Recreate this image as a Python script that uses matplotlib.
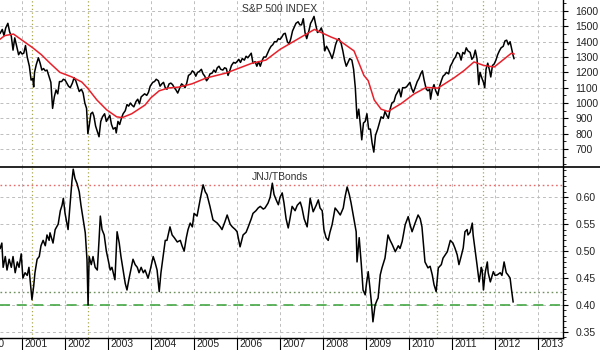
import matplotlib
matplotlib.use("Agg")
import matplotlib.pyplot as plt
from matplotlib.ticker import MultipleLocator, FormatStrFormatter
import matplotlib.transforms as mtransforms
from matplotlib.lines import Line2D

plt.rcParams['font.family'] = ['Liberation Sans', 'DejaVu Sans']

# ---------------- data ----------------
spx_t = [2000.49, 2000.54, 2000.58, 2000.62, 2000.67, 2000.71, 2000.75, 2000.79, 2000.83, 2000.87,
         2000.92, 2000.96, 2001.00, 2001.04, 2001.08, 2001.12, 2001.17, 2001.21, 2001.25, 2001.27,
         2001.29, 2001.33, 2001.38, 2001.42, 2001.46, 2001.50, 2001.54, 2001.58, 2001.62, 2001.67,
         2001.71, 2001.75, 2001.79, 2001.83, 2001.87, 2001.92, 2001.96, 2002.00, 2002.04, 2002.08,
         2002.12, 2002.17, 2002.21, 2002.25, 2002.29, 2002.33, 2002.38, 2002.42, 2002.46, 2002.50,
         2002.53, 2002.56, 2002.60, 2002.64, 2002.67, 2002.71, 2002.75, 2002.79, 2002.83, 2002.87,
         2002.92, 2002.96, 2003.00, 2003.04, 2003.08, 2003.12, 2003.17, 2003.19, 2003.23, 2003.27,
         2003.31, 2003.35, 2003.40, 2003.44, 2003.48, 2003.52, 2003.56, 2003.60, 2003.65, 2003.69,
         2003.73, 2003.77, 2003.81, 2003.85, 2003.90, 2003.94, 2003.98, 2004.04, 2004.08, 2004.12,
         2004.17, 2004.21, 2004.25, 2004.29, 2004.33, 2004.37, 2004.42, 2004.46, 2004.50, 2004.54,
         2004.58, 2004.62, 2004.67, 2004.71, 2004.75, 2004.79, 2004.83, 2004.87, 2004.92, 2004.96,
         2005.00, 2005.04, 2005.08, 2005.12, 2005.17, 2005.21, 2005.25, 2005.29, 2005.33, 2005.37,
         2005.42, 2005.46, 2005.50, 2005.54, 2005.58, 2005.62, 2005.67, 2005.71, 2005.75, 2005.79,
         2005.83, 2005.87, 2005.92, 2005.96, 2006.00, 2006.04, 2006.08, 2006.12, 2006.17, 2006.21,
         2006.25, 2006.29, 2006.33, 2006.37, 2006.42, 2006.46, 2006.50, 2006.54, 2006.58, 2006.62,
         2006.67, 2006.71, 2006.75, 2006.79, 2006.83, 2006.87, 2006.92, 2006.96, 2007.00, 2007.04,
         2007.08, 2007.12, 2007.17, 2007.21, 2007.25, 2007.29, 2007.33, 2007.37, 2007.42, 2007.46,
         2007.50, 2007.54, 2007.58, 2007.62, 2007.67, 2007.71, 2007.75, 2007.79, 2007.83, 2007.87,
         2007.92, 2007.96, 2008.00, 2008.04, 2008.08, 2008.12, 2008.17, 2008.21, 2008.25, 2008.29,
         2008.33, 2008.37, 2008.42, 2008.46, 2008.50, 2008.54, 2008.58, 2008.62, 2008.67, 2008.71,
         2008.73, 2008.75, 2008.79, 2008.83, 2008.87, 2008.90, 2008.94, 2008.98, 2009.02, 2009.06,
         2009.10, 2009.14, 2009.18, 2009.22, 2009.27, 2009.31, 2009.35, 2009.40, 2009.44, 2009.48,
         2009.52, 2009.56, 2009.60, 2009.65, 2009.69, 2009.73, 2009.77, 2009.81, 2009.85, 2009.90,
         2009.94, 2009.98, 2010.02, 2010.06, 2010.10, 2010.14, 2010.19, 2010.23, 2010.27, 2010.31,
         2010.35, 2010.40, 2010.44, 2010.48, 2010.50, 2010.54, 2010.58, 2010.62, 2010.67, 2010.71,
         2010.75, 2010.79, 2010.83, 2010.87, 2010.92, 2010.96, 2011.00, 2011.04, 2011.08, 2011.12,
         2011.17, 2011.21, 2011.25, 2011.29, 2011.33, 2011.37, 2011.42, 2011.46, 2011.50, 2011.54,
         2011.58, 2011.60, 2011.62, 2011.65, 2011.69, 2011.73, 2011.76, 2011.79, 2011.83, 2011.87,
         2011.90, 2011.94, 2011.98, 2012.02, 2012.06, 2012.10, 2012.14, 2012.19, 2012.23, 2012.27,
         2012.31, 2012.35, 2012.38, 2012.42, 2012.44]
spx_v = [1455, 1480, 1440, 1490, 1520, 1465, 1436, 1345, 1425, 1375,
         1315, 1335, 1320, 1325, 1375, 1300, 1240, 1150, 1160, 1105,
         1200, 1250, 1295, 1260, 1215, 1225, 1210, 1215, 1180, 1135,
         965, 1040, 1085, 1060, 1140, 1140, 1155, 1150, 1130, 1110,
         1100, 1130, 1165, 1145, 1110, 1075, 1090, 1065, 1000, 965,
         800, 850, 930, 940, 915, 850, 815, 780, 880, 910,
         930, 880, 900, 920, 860, 830, 840, 805, 880, 860,
         900, 930, 950, 990, 980, 1000, 985, 975, 1010, 1025,
         995, 1040, 1050, 1060, 1050, 1070, 1110, 1135, 1140, 1155,
         1145, 1110, 1125, 1135, 1100, 1090, 1125, 1130, 1120, 1100,
         1085, 1065, 1100, 1125, 1115, 1100, 1130, 1180, 1190, 1210,
         1200, 1175, 1200, 1205, 1220, 1190, 1175, 1145, 1160, 1190,
         1195, 1215, 1200, 1230, 1240, 1220, 1215, 1230, 1225, 1180,
         1210, 1245, 1265, 1260, 1270, 1285, 1265, 1290, 1280, 1305,
         1295, 1310, 1325, 1260, 1270, 1240, 1270, 1240, 1275, 1300,
         1300, 1325, 1350, 1370, 1380, 1400, 1400, 1420, 1415, 1430,
         1450, 1455, 1400, 1385, 1420, 1470, 1495, 1520, 1530, 1510,
         1510, 1550, 1460, 1420, 1470, 1520, 1540, 1565, 1510, 1460,
         1470, 1490, 1450, 1340, 1370, 1350, 1320, 1290, 1330, 1380,
         1410, 1420, 1390, 1340, 1280, 1240, 1265, 1290, 1280, 1220,
         1160, 1100, 900, 960, 850, 760, 870, 880, 930, 830,
         830, 740, 680, 790, 830, 870, 910, 900, 945, 920,
         900, 960, 1000, 1010, 1050, 1070, 1090, 1040, 1100, 1100,
         1105, 1120, 1135, 1095, 1070, 1100, 1140, 1160, 1190, 1210,
         1150, 1090, 1080, 1090, 1025, 1090, 1120, 1080, 1050, 1110,
         1145, 1175, 1185, 1200, 1190, 1240, 1260, 1285, 1300, 1330,
         1320, 1280, 1330, 1320, 1360, 1340, 1330, 1285, 1300, 1345,
         1290, 1200, 1120, 1200, 1165, 1135, 1100, 1220, 1260, 1215,
         1170, 1245, 1255, 1280, 1315, 1340, 1360, 1370, 1405, 1410,
         1380, 1400, 1360, 1310, 1290]

ma_t = [2000.49, 2000.60, 2000.80, 2001.00, 2001.25, 2001.45, 2001.65, 2001.88, 2002.16, 2002.39,
        2002.53, 2002.74, 2002.97, 2003.20, 2003.33, 2003.55, 2003.86, 2004.00, 2004.19, 2004.40,
        2004.65, 2004.95, 2005.28, 2005.74, 2006.35, 2006.67, 2007.00, 2007.49, 2007.80, 2008.19,
        2008.37, 2008.72, 2008.95, 2009.05, 2009.19, 2009.35, 2009.51, 2009.81, 2010.12, 2010.40,
        2010.67, 2011.05, 2011.28, 2011.51, 2011.74, 2011.98, 2012.38, 2012.44]
ma_v = [1417, 1440, 1450, 1410, 1360, 1315, 1260, 1200, 1170, 1137,
        1095, 1020, 955, 910, 905, 930, 987, 1035, 1080, 1098,
        1104, 1125, 1163, 1195, 1260, 1280, 1350, 1430, 1480, 1430,
        1410, 1340, 1180, 1146, 1020, 960, 945, 995, 1060, 1102,
        1097, 1165, 1212, 1268, 1245, 1235, 1325, 1320]

jnj_t = [2000.49, 2000.53, 2000.56, 2000.61, 2000.65, 2000.70, 2000.75, 2000.79, 2000.84, 2000.89,
         2000.93, 2000.98, 2001.02, 2001.07, 2001.12, 2001.16, 2001.23, 2001.27, 2001.30, 2001.35,
         2001.40, 2001.44, 2001.49, 2001.54, 2001.58, 2001.63, 2001.65, 2001.72, 2001.77, 2001.84,
         2001.89, 2001.93, 2001.96, 2002.00, 2002.07, 2002.12, 2002.16, 2002.19, 2002.23, 2002.28,
         2002.33, 2002.37, 2002.42, 2002.47, 2002.49, 2002.51, 2002.535, 2002.56, 2002.61, 2002.65,
         2002.70, 2002.75, 2002.79, 2002.82, 2002.86, 2002.91, 2002.96, 2003.00, 2003.05, 2003.09,
         2003.16, 2003.21, 2003.26, 2003.30, 2003.35, 2003.40, 2003.44, 2003.49, 2003.54, 2003.58,
         2003.63, 2003.68, 2003.72, 2003.77, 2003.82, 2003.86, 2003.93, 2003.98, 2004.05, 2004.09,
         2004.14, 2004.19, 2004.23, 2004.28, 2004.33, 2004.37, 2004.44, 2004.49, 2004.54, 2004.61,
         2004.68, 2004.72, 2004.77, 2004.82, 2004.86, 2004.91, 2004.96, 2005.00, 2005.07, 2005.14,
         2005.21, 2005.26, 2005.30, 2005.37, 2005.44, 2005.49, 2005.54, 2005.61, 2005.65, 2005.72,
         2005.77, 2005.84, 2005.89, 2005.96, 2006.00, 2006.07, 2006.14, 2006.21, 2006.26, 2006.33,
         2006.37, 2006.44, 2006.49, 2006.54, 2006.61, 2006.65, 2006.72, 2006.77, 2006.82, 2006.86,
         2006.91, 2006.96, 2007.00, 2007.05, 2007.09, 2007.14, 2007.19, 2007.23, 2007.28, 2007.35,
         2007.40, 2007.47, 2007.51, 2007.56, 2007.63, 2007.70, 2007.77, 2007.84, 2007.89, 2007.93,
         2007.98, 2008.02, 2008.07, 2008.12, 2008.16, 2008.21, 2008.28, 2008.33, 2008.40, 2008.47,
         2008.51, 2008.56, 2008.61, 2008.65, 2008.70, 2008.75, 2008.77, 2008.79, 2008.84, 2008.89,
         2008.93, 2008.98, 2009.01, 2009.05, 2009.09, 2009.13, 2009.16, 2009.21, 2009.26, 2009.28,
         2009.33, 2009.37, 2009.44, 2009.51, 2009.56, 2009.61, 2009.68, 2009.75, 2009.79, 2009.84,
         2009.91, 2009.98, 2010.02, 2010.07, 2010.14, 2010.21, 2010.26, 2010.30, 2010.33, 2010.37,
         2010.44, 2010.49, 2010.54, 2010.58, 2010.63, 2010.68, 2010.75, 2010.79, 2010.89, 2010.96,
         2011.02, 2011.07, 2011.12, 2011.16, 2011.21, 2011.26, 2011.30, 2011.35, 2011.37, 2011.42,
         2011.47, 2011.49, 2011.54, 2011.58, 2011.63, 2011.68, 2011.70, 2011.73, 2011.77, 2011.82,
         2011.84, 2011.89, 2011.96, 2012.00, 2012.05, 2012.12, 2012.16, 2012.19, 2012.21, 2012.26,
         2012.30, 2012.35, 2012.38, 2012.42]
jnj_v = [0.505, 0.515, 0.470, 0.490, 0.465, 0.485, 0.470, 0.490, 0.460, 0.480,
         0.470, 0.495, 0.450, 0.460, 0.455, 0.470, 0.410, 0.435, 0.460, 0.485,
         0.490, 0.510, 0.520, 0.510, 0.530, 0.520, 0.534, 0.515, 0.540, 0.550,
         0.575, 0.585, 0.598, 0.570, 0.540, 0.590, 0.630, 0.652, 0.635, 0.625,
         0.610, 0.585, 0.560, 0.534, 0.510, 0.484, 0.400, 0.490, 0.475, 0.490,
         0.470, 0.465, 0.520, 0.565, 0.540, 0.530, 0.500, 0.485, 0.465, 0.470,
         0.447, 0.536, 0.515, 0.490, 0.465, 0.440, 0.428, 0.450, 0.470, 0.485,
         0.475, 0.470, 0.460, 0.470, 0.460, 0.465, 0.450, 0.465, 0.490, 0.480,
         0.465, 0.425, 0.460, 0.490, 0.520, 0.520, 0.545, 0.530, 0.525, 0.517,
         0.520, 0.510, 0.500, 0.525, 0.540, 0.552, 0.545, 0.570, 0.565, 0.595,
         0.623, 0.610, 0.605, 0.583, 0.558, 0.555, 0.552, 0.545, 0.540, 0.555,
         0.567, 0.550, 0.545, 0.540, 0.536, 0.508, 0.530, 0.535, 0.545, 0.560,
         0.570, 0.575, 0.580, 0.583, 0.578, 0.580, 0.589, 0.600, 0.626, 0.605,
         0.595, 0.586, 0.600, 0.608, 0.590, 0.560, 0.543, 0.560, 0.583, 0.575,
         0.585, 0.591, 0.580, 0.560, 0.545, 0.598, 0.573, 0.585, 0.595, 0.580,
         0.575, 0.540, 0.525, 0.520, 0.535, 0.549, 0.580, 0.575, 0.567, 0.580,
         0.600, 0.619, 0.605, 0.590, 0.567, 0.545, 0.536, 0.480, 0.525, 0.475,
         0.428, 0.419, 0.440, 0.462, 0.432, 0.400, 0.369, 0.400, 0.410, 0.413,
         0.456, 0.469, 0.487, 0.530, 0.520, 0.512, 0.499, 0.510, 0.505, 0.518,
         0.549, 0.564, 0.550, 0.536, 0.552, 0.567, 0.560, 0.545, 0.517, 0.480,
         0.469, 0.472, 0.456, 0.438, 0.425, 0.469, 0.475, 0.487, 0.499, 0.520,
         0.515, 0.505, 0.493, 0.475, 0.490, 0.506, 0.536, 0.540, 0.530, 0.535,
         0.552, 0.530, 0.500, 0.475, 0.443, 0.470, 0.465, 0.428, 0.460, 0.480,
         0.460, 0.443, 0.462, 0.455, 0.456, 0.460, 0.455, 0.470, 0.480, 0.460,
         0.456, 0.450, 0.430, 0.406]

marker_dates = [2001.23, 2002.535, 2010.66, 2011.73]
level_high = 0.623
level_low_dotted = 0.425
level_low_dashed = 0.40
years = list(range(2000, 2014))
spx_ticks = list(range(700, 1700, 100))
jnj_ticks = [0.35, 0.40, 0.45, 0.50, 0.55, 0.60]

# ---------------- layout ----------------
W, H = 600, 350
fig = plt.figure(figsize=(6, 3.5), dpi=100)
right = 563 / W
ax1 = fig.add_axes([0, 1 - 166.5 / H, right, 166.5 / H])
ax2 = fig.add_axes([0, 1 - 338 / H, right, (338 - 167) / H])

xlim = (2000.487, 2013.58)
grid_kw = dict(color='#bdbdbd', linestyle=(0, (3, 3)), linewidth=0.7)
olive = '#a8a850'

for ax in (ax1, ax2):
    ax.set_xticks(years)
    ax.grid(True, **grid_kw)
    ax.set_axisbelow(True)
    for s in ('left', 'top'):
        ax.spines[s].set_visible(False)
    ax.spines['right'].set_color('black')
    ax.spines['right'].set_linewidth(1.0)
    ax.yaxis.tick_right()
    ax.tick_params(axis='y', which='major', direction='out', length=3.5, width=0.8,
                   pad=5.5, labelsize=7.5, labelcolor='#222222')
    ax.tick_params(axis='y', which='minor', direction='out', length=2, width=0.6)
    for d in marker_dates:
        ax.axvline(d, color=olive, linestyle=(0, (1, 2)), linewidth=0.9, zorder=1)

# top panel
ax1.plot(spx_t, spx_v, color='black', linewidth=1.1, zorder=3)
ax1.plot(ma_t, ma_v, color='#e8202a', linewidth=1.1, zorder=4)
ax1.set_ylim(586, 1672)
ax1.set_yticks(spx_ticks)
ax1.yaxis.set_minor_locator(MultipleLocator(50))
ax1.spines['bottom'].set_visible(False)
ax1.tick_params(axis='x', length=0, labelbottom=False)
ax1.text(0.497, 0.945, 'S&P 500 INDEX', transform=ax1.transAxes, ha='center', va='center',
         fontsize=7.5, color='#333333')

# bottom panel
ax2.plot(jnj_t, jnj_v, color='black', linewidth=1.1, zorder=3)
ax2.axhline(level_high, color='#e86a6a', linestyle=(0, (1.2, 2)), linewidth=1.0, zorder=2)
ax2.axhline(level_low_dotted, color='#6f8f5f', linestyle=(0, (1.2, 2)), linewidth=1.0, zorder=2)
ax2.axhline(level_low_dashed, color='#45a845', linestyle=(0, (6, 4)), linewidth=1.2, zorder=2)
ax2.set_ylim(0.339, 0.656)
ax2.set_yticks(jnj_ticks)
ax2.yaxis.set_major_formatter(FormatStrFormatter('%.2f'))
ax2.yaxis.set_minor_locator(MultipleLocator(0.01))
ax2.spines['top'].set_visible(False)
ax2.spines['bottom'].set_color('black')
ax2.spines['bottom'].set_linewidth(1.0)
ax2.tick_params(axis='x', direction='out', length=12, width=0.8, labelbottom=False)
ax2.text(0.497, 0.94, 'JNJ/TBonds', transform=ax2.transAxes, ha='center', va='center',
         fontsize=7.5, color='#333333')

trans = mtransforms.blended_transform_factory(ax2.transData, ax2.transAxes)
for yr in years:
    ax2.text(yr + 0.05, -0.036, str(yr), transform=trans, ha='left', va='center',
             fontsize=7.5, color='#222222', clip_on=False)

# limits set last so that tick placement cannot widen them
for ax in (ax1, ax2):
    ax.set_xlim(*xlim)

# separator line between panels
fig.add_artist(Line2D([0, 1], [1 - 166.8 / H, 1 - 166.8 / H], transform=fig.transFigure,
                      color='black', linewidth=1.2))

fig.savefig('out.png', dpi=100)
